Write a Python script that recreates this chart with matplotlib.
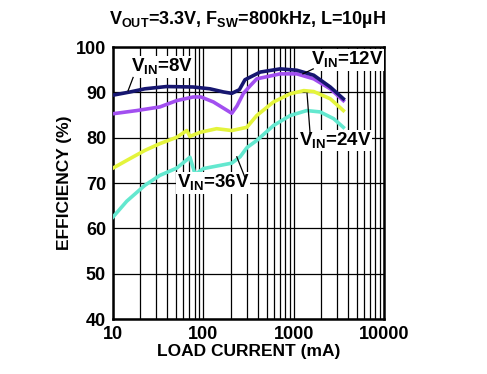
import numpy as np
import matplotlib
matplotlib.use("Agg")
import matplotlib.pyplot as plt

plt.rcParams['font.family'] = ['Liberation Sans', 'DejaVu Sans']
plt.rcParams['font.weight'] = 'bold'
plt.rcParams['mathtext.fontset'] = 'custom'
plt.rcParams['mathtext.rm'] = 'Liberation Sans:bold'
plt.rcParams['mathtext.bf'] = 'Liberation Sans:bold'

# load current (mA) and efficiency (%)
i_8v = [10, 15.4, 22.5, 39, 77, 118, 167, 206, 250, 288, 426, 708, 1080, 1660, 2530, 3530]
e_8v = [89.4, 90.1, 90.8, 91.3, 91.2, 90.8, 90.1, 89.8, 90.6, 92.8, 94.5, 95.2, 94.9, 93.8, 91.2, 88.6]

i_12v = [10, 18.3, 33, 50.7, 77, 94, 129, 206, 235, 277, 330, 389, 708, 1080, 1660, 2530, 3530]
e_12v = [85.3, 86.0, 86.8, 88.2, 89.0, 89.0, 87.9, 85.4, 87.0, 89.8, 91.5, 93.0, 94.1, 94.1, 93.0, 90.8, 88.2]

i_24v = [10, 14.2, 22.5, 33, 50.7, 65.5, 71, 92, 140, 206, 302, 389, 596, 910, 1290, 1660, 2530, 3530]
e_24v = [73.3, 75.0, 77.2, 78.7, 80.1, 81.6, 80.3, 81.2, 82.0, 81.6, 82.3, 84.9, 87.9, 89.7, 90.4, 90.2, 88.6, 86.0]

i_36v = [10, 14.2, 22.5, 33, 50.7, 71, 81, 100, 153, 206, 255, 302, 389, 596, 910, 1390, 1955, 2760, 3530]
e_36v = [62.5, 66.0, 69.5, 71.7, 73.3, 75.7, 71.9, 73.2, 73.9, 74.4, 75.8, 77.8, 79.4, 82.7, 84.9, 86.0, 85.7, 84.2, 82.3]

fig = plt.figure(figsize=(4.87, 3.74), dpi=100)
ax = fig.add_axes([0.232, 0.147, 0.557, 0.727])

ax.semilogx(i_8v, e_8v, color='#161670', lw=2.6, zorder=5)
ax.semilogx(i_12v, e_12v, color='#a24ff0', lw=2.6, zorder=4)
ax.semilogx(i_24v, e_24v, color='#e4f43c', lw=2.6, zorder=3)
ax.semilogx(i_36v, e_36v, color='#63e8cf', lw=2.6, zorder=3)

ax.set_xlim(10, 10000)
ax.set_ylim(40, 100)
ax.set_yticks(np.arange(40, 101, 10))
ax.set_xticks([10, 100, 1000, 10000])
ax.set_xticklabels(['10', '100', '1000', '10000'])
ax.xaxis.set_minor_locator(matplotlib.ticker.LogLocator(base=10, subs=np.arange(2, 10)))
ax.xaxis.set_minor_formatter(matplotlib.ticker.NullFormatter())
ax.grid(True, which='both', color='black', lw=0.9)
ax.tick_params(which='both', length=0, labelsize=13)
ax.tick_params(axis='x', pad=5)
ax.tick_params(axis='y', pad=5)
for s in ax.spines.values():
    s.set_linewidth(1.8)

ax.set_xlabel('LOAD CURRENT (mA)', fontsize=12.5, fontweight='bold', labelpad=1)
ax.set_ylabel('EFFICIENCY (%)', fontsize=12.5, fontweight='bold', labelpad=3)
fig.text(0.509, 0.947, r'V$_{\mathrm{OUT}}$=3.3V, F$_{\mathrm{SW}}$=800kHz, L=10µH',
         ha='center', va='center', fontsize=13, fontweight='bold')

box = dict(facecolor='white', edgecolor='none', pad=0.5)
lab = dict(fontsize=13.5, fontweight='bold', ha='center', va='center', zorder=6, bbox=box)
ax.text(35, 95.7, r'V$_{\mathrm{IN}}$=8V', **lab)
ax.plot([16.7, 14.7], [93.3, 90.4], color='black', lw=0.9, zorder=6)
ax.text(3890, 97.1, r'V$_{\mathrm{IN}}$=12V', **lab)
ax.plot([1640, 1260], [95.2, 94.1], color='black', lw=0.9, zorder=6)
ax.text(2870, 79.4, r'V$_{\mathrm{IN}}$=24V', **lab)
ax.plot([1510, 1400], [81.2, 89.8], color='black', lw=0.9, zorder=6)
ax.text(128, 70.0, r'V$_{\mathrm{IN}}$=36V', **lab)
ax.plot([234, 290], [75.8, 71.1], color='black', lw=0.9, zorder=6)

fig.savefig('out.png', dpi=100)
